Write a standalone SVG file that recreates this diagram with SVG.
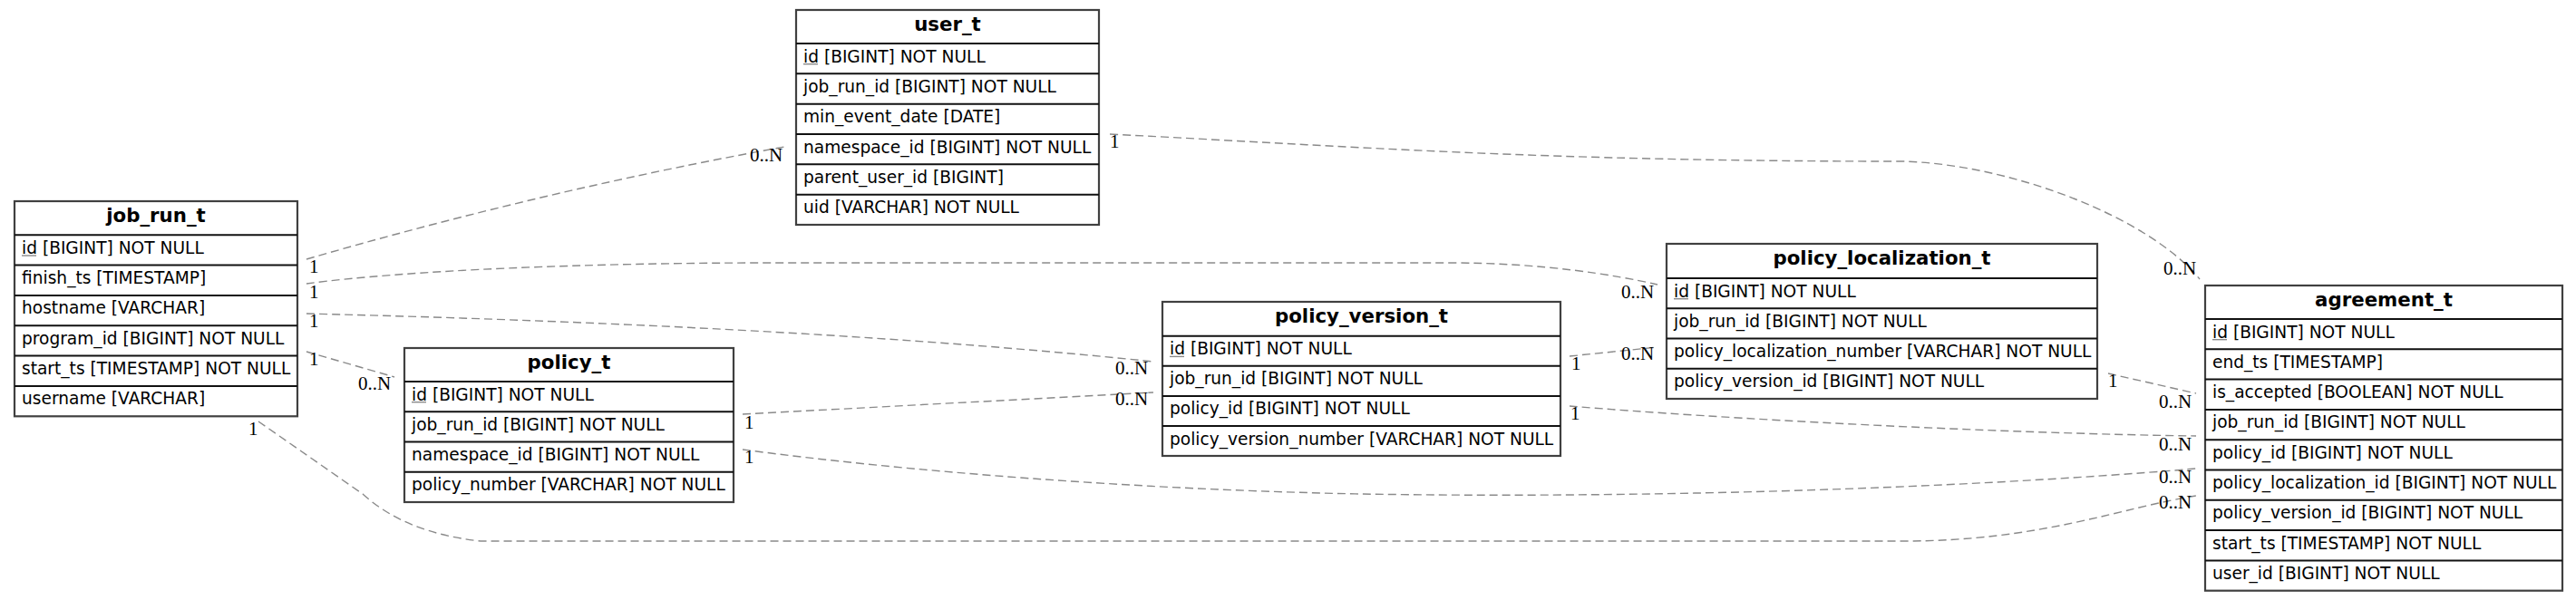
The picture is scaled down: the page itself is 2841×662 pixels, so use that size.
<svg xmlns="http://www.w3.org/2000/svg" width="2841" height="662" viewBox="0 0 2841 662">
<style>
.bg{fill:#ffffff}
.box{fill:#ffffff;stroke:#404040;stroke-width:2.2}
.sep{stroke:#111111;stroke-width:2}
.hd{font-family:"DejaVu Sans",sans-serif;font-weight:bold;font-size:21.3px;fill:#000;text-anchor:middle}
.rw{font-family:"DejaVu Sans",sans-serif;font-size:18.6px;fill:#000}
.ul{stroke:#8a8a8a;stroke-width:1.4}
.edge{fill:none;stroke:#8a8a8a;stroke-width:1.4;stroke-dasharray:9,5}
.lbl{font-family:"Liberation Serif","Times New Roman",serif;font-size:21px;fill:#000}
</style>
<rect class="bg" x="0" y="0" width="2841" height="662"/>

<g id="connectors">
<path class="edge" d="M338,286 Q600,210 865,162"/>
<path class="edge" d="M338,313 C450,298 650,290 850,290 L1600,290 C1700,290 1780,303 1828,314"/>
<path class="edge" d="M338,346 Q900,360 1272,399"/>
<path class="edge" d="M338,388 L435,416"/>
<path class="edge" d="M285,465 L400,545 Q447,588 530,597 L2100,597 C2250,597 2340,560 2422,547"/>
<path class="edge" d="M1224,148 C1500,162 1700,178 2100,178 C2220,182 2370,240 2426,308"/>
<path class="edge" d="M819,457 L1272,433"/>
<path class="edge" d="M819,496 C1000,520 1250,540 1500,545 C1800,550 2150,540 2422,517"/>
<path class="edge" d="M1731,393 L1828,383"/>
<path class="edge" d="M1731,448 C1900,462 2200,478 2422,481"/>
<path class="edge" d="M2325,412 L2422,434"/>
<text class="lbl" x="341" y="301">1</text>
<text class="lbl" x="827" y="178">0..N</text>
<text class="lbl" x="341" y="329">1</text>
<text class="lbl" x="1788" y="329">0..N</text>
<text class="lbl" x="341" y="361">1</text>
<text class="lbl" x="1230" y="413">0..N</text>
<text class="lbl" x="341" y="403">1</text>
<text class="lbl" x="395" y="430">0..N</text>
<text class="lbl" x="274" y="480">1</text>
<text class="lbl" x="2381" y="561">0..N</text>
<text class="lbl" x="1224" y="163">1</text>
<text class="lbl" x="2386" y="303">0..N</text>
<text class="lbl" x="821" y="473">1</text>
<text class="lbl" x="1230" y="447">0..N</text>
<text class="lbl" x="821" y="511">1</text>
<text class="lbl" x="2381" y="533">0..N</text>
<text class="lbl" x="1733" y="408">1</text>
<text class="lbl" x="1788" y="397">0..N</text>
<text class="lbl" x="1732" y="463">1</text>
<text class="lbl" x="2381" y="497">0..N</text>
<text class="lbl" x="2325" y="427">1</text>
<text class="lbl" x="2381" y="450">0..N</text>
</g>

<g id="job_run_t">
<rect class="box" x="16" y="222" width="312" height="237.3"/>
<line class="sep" x1="16" y1="259.3" x2="328" y2="259.3"/>
<line class="sep" x1="16" y1="292.6" x2="328" y2="292.6"/>
<line class="sep" x1="16" y1="325.9" x2="328" y2="325.9"/>
<line class="sep" x1="16" y1="359.3" x2="328" y2="359.3"/>
<line class="sep" x1="16" y1="392.6" x2="328" y2="392.6"/>
<line class="sep" x1="16" y1="425.9" x2="328" y2="425.9"/>
<text class="hd" x="172" y="245">job_run_t</text>
<text class="rw" x="24" y="279.8">id [BIGINT] NOT NULL</text>
<line class="ul" x1="24" y1="282" x2="40" y2="282"/>
<text class="rw" x="24" y="313.1">finish_ts [TIMESTAMP]</text>
<text class="rw" x="24" y="346.4">hostname [VARCHAR]</text>
<text class="rw" x="24" y="379.8">program_id [BIGINT] NOT NULL</text>
<text class="rw" x="24" y="413.1">start_ts [TIMESTAMP] NOT NULL</text>
<text class="rw" x="24" y="446.4">username [VARCHAR]</text>
</g>

<g id="user_t">
<rect class="box" x="878" y="11" width="334" height="237"/>
<line class="sep" x1="878" y1="48" x2="1212" y2="48"/>
<line class="sep" x1="878" y1="81.3" x2="1212" y2="81.3"/>
<line class="sep" x1="878" y1="114.7" x2="1212" y2="114.7"/>
<line class="sep" x1="878" y1="148" x2="1212" y2="148"/>
<line class="sep" x1="878" y1="181.3" x2="1212" y2="181.3"/>
<line class="sep" x1="878" y1="214.7" x2="1212" y2="214.7"/>
<text class="hd" x="1045" y="34">user_t</text>
<text class="rw" x="886" y="68.5">id [BIGINT] NOT NULL</text>
<line class="ul" x1="886" y1="70.7" x2="902" y2="70.7"/>
<text class="rw" x="886" y="101.8">job_run_id [BIGINT] NOT NULL</text>
<text class="rw" x="886" y="135.2">min_event_date [DATE]</text>
<text class="rw" x="886" y="168.5">namespace_id [BIGINT] NOT NULL</text>
<text class="rw" x="886" y="201.8">parent_user_id [BIGINT]</text>
<text class="rw" x="886" y="235.2">uid [VARCHAR] NOT NULL</text>
</g>

<g id="policy_t">
<rect class="box" x="446" y="384" width="363" height="170"/>
<line class="sep" x1="446" y1="421" x2="809" y2="421"/>
<line class="sep" x1="446" y1="454.25" x2="809" y2="454.25"/>
<line class="sep" x1="446" y1="487.5" x2="809" y2="487.5"/>
<line class="sep" x1="446" y1="520.75" x2="809" y2="520.75"/>
<text class="hd" x="627.5" y="407">policy_t</text>
<text class="rw" x="454" y="441.5">id [BIGINT] NOT NULL</text>
<line class="ul" x1="454" y1="443.7" x2="470" y2="443.7"/>
<text class="rw" x="454" y="474.75">job_run_id [BIGINT] NOT NULL</text>
<text class="rw" x="454" y="508">namespace_id [BIGINT] NOT NULL</text>
<text class="rw" x="454" y="541.25">policy_number [VARCHAR] NOT NULL</text>
</g>

<g id="policy_version_t">
<rect class="box" x="1282" y="333" width="439" height="170"/>
<line class="sep" x1="1282" y1="370.7" x2="1721" y2="370.7"/>
<line class="sep" x1="1282" y1="403.8" x2="1721" y2="403.8"/>
<line class="sep" x1="1282" y1="436.9" x2="1721" y2="436.9"/>
<line class="sep" x1="1282" y1="470" x2="1721" y2="470"/>
<text class="hd" x="1501.5" y="356">policy_version_t</text>
<text class="rw" x="1290" y="391.2">id [BIGINT] NOT NULL</text>
<line class="ul" x1="1290" y1="393.4" x2="1306" y2="393.4"/>
<text class="rw" x="1290" y="424.3">job_run_id [BIGINT] NOT NULL</text>
<text class="rw" x="1290" y="457.4">policy_id [BIGINT] NOT NULL</text>
<text class="rw" x="1290" y="490.5">policy_version_number [VARCHAR] NOT NULL</text>
</g>

<g id="policy_localization_t">
<rect class="box" x="1838" y="269" width="475" height="171"/>
<line class="sep" x1="1838" y1="307" x2="2313" y2="307"/>
<line class="sep" x1="1838" y1="340.25" x2="2313" y2="340.25"/>
<line class="sep" x1="1838" y1="373.5" x2="2313" y2="373.5"/>
<line class="sep" x1="1838" y1="406.75" x2="2313" y2="406.75"/>
<text class="hd" x="2075.5" y="292">policy_localization_t</text>
<text class="rw" x="1846" y="327.5">id [BIGINT] NOT NULL</text>
<line class="ul" x1="1846" y1="329.7" x2="1862" y2="329.7"/>
<text class="rw" x="1846" y="360.75">job_run_id [BIGINT] NOT NULL</text>
<text class="rw" x="1846" y="394">policy_localization_number [VARCHAR] NOT NULL</text>
<text class="rw" x="1846" y="427.25">policy_version_id [BIGINT] NOT NULL</text>
</g>

<g id="agreement_t">
<rect class="box" x="2432" y="315" width="394" height="336.7"/>
<line class="sep" x1="2432" y1="352" x2="2826" y2="352"/>
<line class="sep" x1="2432" y1="385.3" x2="2826" y2="385.3"/>
<line class="sep" x1="2432" y1="418.6" x2="2826" y2="418.6"/>
<line class="sep" x1="2432" y1="451.9" x2="2826" y2="451.9"/>
<line class="sep" x1="2432" y1="485.2" x2="2826" y2="485.2"/>
<line class="sep" x1="2432" y1="518.5" x2="2826" y2="518.5"/>
<line class="sep" x1="2432" y1="551.8" x2="2826" y2="551.8"/>
<line class="sep" x1="2432" y1="585.1" x2="2826" y2="585.1"/>
<line class="sep" x1="2432" y1="618.4" x2="2826" y2="618.4"/>
<text class="hd" x="2629" y="338">agreement_t</text>
<text class="rw" x="2440" y="372.5">id [BIGINT] NOT NULL</text>
<line class="ul" x1="2440" y1="374.7" x2="2456" y2="374.7"/>
<text class="rw" x="2440" y="405.8">end_ts [TIMESTAMP]</text>
<text class="rw" x="2440" y="439.1">is_accepted [BOOLEAN] NOT NULL</text>
<text class="rw" x="2440" y="472.4">job_run_id [BIGINT] NOT NULL</text>
<text class="rw" x="2440" y="505.7">policy_id [BIGINT] NOT NULL</text>
<text class="rw" x="2440" y="539">policy_localization_id [BIGINT] NOT NULL</text>
<text class="rw" x="2440" y="572.3">policy_version_id [BIGINT] NOT NULL</text>
<text class="rw" x="2440" y="605.6">start_ts [TIMESTAMP] NOT NULL</text>
<text class="rw" x="2440" y="638.9">user_id [BIGINT] NOT NULL</text>
</g>
</svg>
